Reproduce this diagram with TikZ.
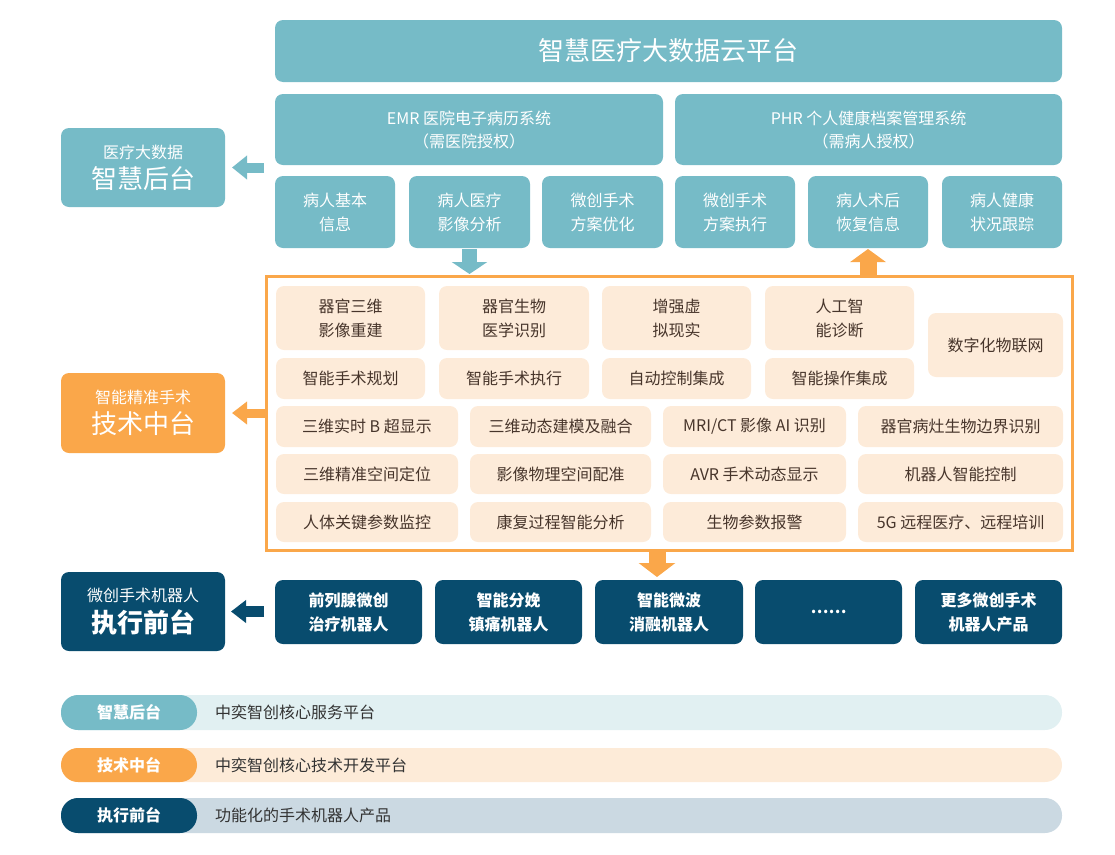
\documentclass[tikz,border=0pt]{standalone}
\usepackage{fontspec}
\setmainfont{Noto Sans CJK SC}
\usetikzlibrary{arrows.meta,calc}
\definecolor{cteal}{HTML}{76BBC7}
\definecolor{corange}{HTML}{FAA74A}
\definecolor{cpeach}{HTML}{FDEBD9}
\definecolor{cnavy}{HTML}{084C6E}
\definecolor{cbrown}{HTML}{47352B}
\definecolor{lteal}{HTML}{E1F0F2}
\definecolor{lorange}{HTML}{FDEBD8}
\definecolor{lnavy}{HTML}{CBD9E2}
\definecolor{ctext}{HTML}{333333}
\newcommand\bx[7]{\node[#2, minimum width={#5-#3}, minimum height={#6-#4}] (#1) at ({(#3+#5)/2},{(#4+#6)/2}) {#7};}
\tikzset{
  base/.style={inner sep=0pt, outer sep=0pt, rounded corners=8pt, align=center, text=white, font=\fontsize{16}{24}\selectfont},
  tealbox/.style={base, fill=cteal},
  peachbox/.style={base, fill=cpeach, text=cbrown},
  navybox/.style={base, fill=cnavy, font=\fontsize{16}{24}\selectfont\bfseries},
  orangebox/.style={base, fill=corange},
  fatarrow/.style n args={4}{draw=#1, line width=#2, -{Triangle[length=#3, width=#4]}},
  bar/.style={inner sep=0pt, outer sep=0pt, rounded corners=17pt},
  pilltext/.style={text=white, font=\fontsize{16}{20}\selectfont\bfseries},
  legtext/.style={anchor=west, inner sep=0pt, text=ctext, font=\fontsize{16}{20}\selectfont},
}
\begin{document}
\begin{tikzpicture}[x=1pt,y=-1pt]
\useasboundingbox (0,0) rectangle (1115,854);
% cloud platform
\bx{cloud}{tealbox, font=\fontsize{26}{30}\selectfont}{275}{20}{1062}{82}{智慧医疗大数据云平台}
\bx{emr}{tealbox, font=\fontsize{16}{23}\selectfont}{275}{94}{663}{165}{EMR 医院电子病历系统\\（需医院授权）}
\bx{phr}{tealbox, font=\fontsize{16}{23}\selectfont}{675}{94}{1062}{165}{PHR 个人健康档案管理系统\\（需病人授权）}
\bx{c1}{tealbox}{275}{176}{395}{248}{病人基本\\信息}
\bx{c2}{tealbox}{409}{176}{530}{248}{病人医疗\\影像分析}
\bx{c3}{tealbox}{542}{176}{663}{248}{微创手术\\方案优化}
\bx{c4}{tealbox}{675}{176}{795}{248}{微创手术\\方案执行}
\bx{c5}{tealbox}{808}{176}{928}{248}{病人术后\\恢复信息}
\bx{c6}{tealbox}{942}{176}{1062}{248}{病人健康\\状况跟踪}
% left boxes
\bx{lb1}{tealbox}{61}{128}{225}{207}{\fontsize{16}{20}\selectfont 医疗大数据\\[6pt]\fontsize{26}{20}\selectfont 智慧后台}
\bx{lb2}{orangebox}{61}{373}{225}{453}{\fontsize{16}{20}\selectfont 智能精准手术\\[6pt]\fontsize{26}{20}\selectfont 技术中台}
\bx{lb3}{navybox}{61}{572}{225}{651}{\fontsize{16}{20}\selectfont\mdseries 微创手术机器人\\[6pt]\fontsize{26}{20}\selectfont\bfseries 执行前台}
% technology frame
\bx{frame}{inner sep=0pt, outer sep=0pt, draw=corange, line width=3pt}{266}{276}{1072}{550}{}
% peach boxes
\bx{p11}{peachbox}{276}{286}{425}{350}{器官三维\\影像重建}
\bx{p12}{peachbox}{439}{286}{589}{350}{器官生物\\医学识别}
\bx{p13}{peachbox}{602}{286}{751}{350}{增强虚\\拟现实}
\bx{p14}{peachbox}{765}{286}{914}{350}{人工智\\能诊断}
\bx{p21}{peachbox}{276}{358}{425}{399}{智能手术规划}
\bx{p22}{peachbox}{439}{358}{589}{399}{智能手术执行}
\bx{p23}{peachbox}{602}{358}{751}{399}{自动控制集成}
\bx{p24}{peachbox}{765}{358}{914}{399}{智能操作集成}
\bx{piot}{peachbox}{928}{313}{1063}{377}{数字化物联网}
\bx{p31}{peachbox}{276}{406}{458}{447}{三维实时 B 超显示}
\bx{p32}{peachbox}{470}{406}{651}{447}{三维动态建模及融合}
\bx{p33}{peachbox}{663}{406}{846}{447}{MRI/CT 影像 AI 识别}
\bx{p34}{peachbox}{858}{406}{1063}{447}{器官病灶生物边界识别}
\bx{p41}{peachbox}{276}{454}{458}{494}{三维精准空间定位}
\bx{p42}{peachbox}{470}{454}{651}{494}{影像物理空间配准}
\bx{p43}{peachbox}{663}{454}{846}{494}{AVR 手术动态显示}
\bx{p44}{peachbox}{858}{454}{1063}{494}{机器人智能控制}
\bx{p51}{peachbox}{276}{502}{458}{542}{人体关键参数监控}
\bx{p52}{peachbox}{470}{502}{651}{542}{康复过程智能分析}
\bx{p53}{peachbox}{663}{502}{846}{542}{生物参数报警}
\bx{p54}{peachbox}{858}{502}{1063}{542}{5G 远程医疗、远程培训}
% robot boxes
\bx{d1}{navybox}{275}{580}{422}{644}{前列腺微创\\治疗机器人}
\bx{d2}{navybox}{435}{580}{582}{644}{智能分娩\\镇痛机器人}
\bx{d3}{navybox}{595}{580}{743}{644}{智能微波\\消融机器人}
\bx{d4}{navybox}{755}{580}{902}{644}{……}
\bx{d5}{navybox}{915}{580}{1062}{644}{更多微创手术\\机器人产品}
% arrows
\draw[fatarrow={cteal}{10pt}{15pt}{23pt}] ($(lb1.east -| c1.west)+(-11,0)$) -- ([xshift=7pt]lb1.east);
\draw[fatarrow={corange}{9pt}{15pt}{22pt}] (lb2.east -| frame.west) -- ([xshift=7pt]lb2.east);
\draw[fatarrow={cnavy}{11pt}{15pt}{22pt}] ($(lb3.east -| d1.west)+(-11,0)$) -- ([xshift=6pt]lb3.east);
\draw[fatarrow={cteal}{15pt}{12pt}{35pt}] ([yshift=-1pt]c2.south) -- ($(c2.south |- frame.north)+(0,-2)$);
\draw[fatarrow={corange}{17pt}{13pt}{35pt}] (c5.south |- frame.north) -- ([yshift=-1pt]c5.south);
\draw[fatarrow={corange}{17pt}{14pt}{36pt}] ($(frame.south)+(-12,1)$) -- ($(frame.south)+(-12,27)$);
% legend
\bx{bar1}{bar, fill=lteal}{61}{695}{1062}{730}{}
\bx{pill1}{bar, fill=cteal, pilltext}{61}{695}{197}{730}{智慧后台}
\node[legtext] (t1) at (215,712.5) {中奕智创核心服务平台};
\bx{bar2}{bar, fill=lorange}{61}{748}{1062}{782}{}
\bx{pill2}{bar, fill=corange, pilltext}{61}{748}{197}{782}{技术中台}
\node[legtext] (t2) at (215,765) {中奕智创核心技术开发平台};
\bx{bar3}{bar, fill=lnavy}{61}{798}{1062}{833}{}
\bx{pill3}{bar, fill=cnavy, pilltext}{61}{798}{197}{833}{执行前台}
\node[legtext] (t3) at (215,815.5) {功能化的手术机器人产品};
\end{tikzpicture}
\end{document}
